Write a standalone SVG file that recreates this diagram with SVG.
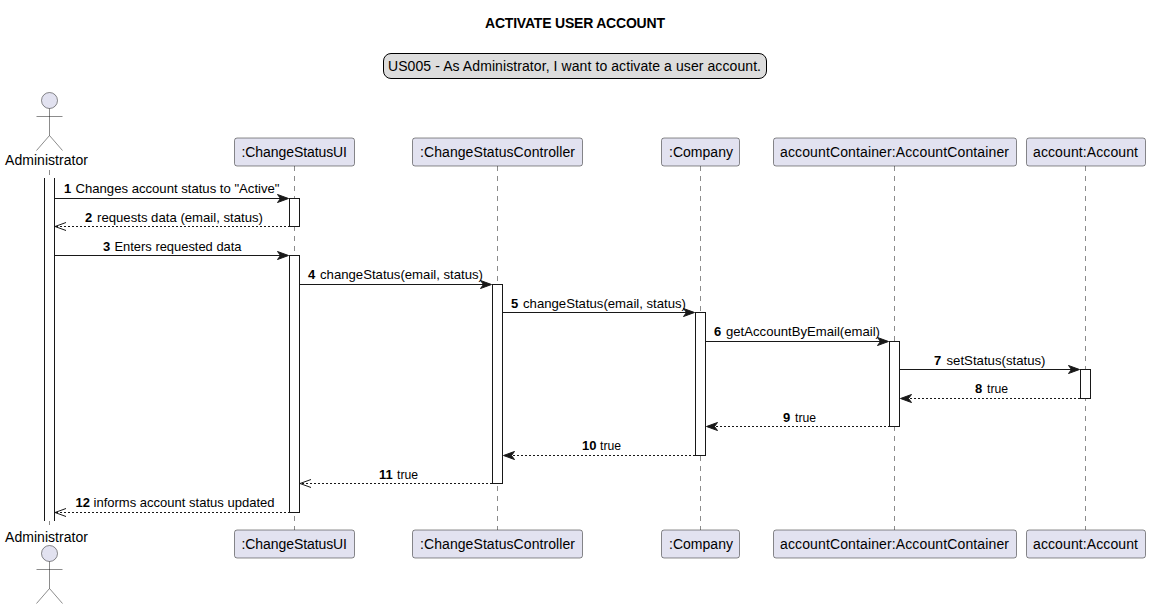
<svg xmlns="http://www.w3.org/2000/svg" width="1150" height="609" viewBox="0 0 1150 609">
<style>
text{font-family:"Liberation Sans",Arial,sans-serif;fill:#000}
.t{font-size:14px;font-weight:bold}
.p{font-size:14px}
.m{font-size:13px;lengthAdjust:spacingAndGlyphs}
.m tspan{font-weight:bold}
.box{fill:#E2E2F0;stroke:#181818;stroke-width:.5}
.life{stroke:#181818;stroke-width:.5;stroke-dasharray:5 5;fill:none}
.act{fill:#fff;stroke:#181818;stroke-width:1}
.actor{fill:none;stroke:#181818;stroke-width:.5}
.head{fill:#E2E2F0;stroke:#181818;stroke-width:.5}
.s{stroke:#181818;stroke-width:1;fill:none}
.d{stroke:#181818;stroke-width:1;stroke-dasharray:2 2;fill:none}
.fh{fill:#181818;stroke:#181818}
.oh{fill:none;stroke:#181818;stroke-width:1}
</style>
<rect width="1150" height="609" fill="#fff"/>
<text class="t" x="575" y="28" text-anchor="middle" textLength="180">ACTIVATE USER ACCOUNT</text>
<g id="legend"><rect x="383.500" y="53.500" width="383" height="25" rx="7.500" fill="#DDDDDD" stroke="#000" stroke-width="1"/>
<text class="p" x="388" y="71" textLength="373">US005 - As Administrator, I want to activate a user account.</text></g>
<g id="lifelines">
<line class="life" x1="49.500" y1="170" x2="49.500" y2="530"/>
<line class="life" x1="294.500" y1="166" x2="294.500" y2="530"/>
<line class="life" x1="497.500" y1="166" x2="497.500" y2="530"/>
<line class="life" x1="700.500" y1="166" x2="700.500" y2="530"/>
<line class="life" x1="894.500" y1="166" x2="894.500" y2="530"/>
<line class="life" x1="1085.500" y1="166" x2="1085.500" y2="530"/>
</g>
<g id="admin"><circle class="head" cx="49.500" cy="100.500" r="8"/><path class="actor" d="M49.500 108.500V135.500M36.500 116.500H62.500M49.500 135.500L36.500 150.500M49.500 135.500L62.500 150.500"/>
<text class="p" x="5" y="165" textLength="83">Administrator</text>
<text class="p" x="5" y="542" textLength="83">Administrator</text>
<circle class="head" cx="49.500" cy="553.500" r="8"/><path class="actor" d="M49.500 561.500V588.500M36.500 569.500H62.500M49.500 588.500L36.500 603.500M49.500 588.500L62.500 603.500"/></g>
<g id="ui"><rect class="box" x="234.500" y="138" width="120" height="28" rx="2.500"/><text class="p" x="241.500" y="157" textLength="105.500">:ChangeStatusUI</text>
<rect class="box" x="234.500" y="530" width="120" height="28" rx="2.500"/><text class="p" x="241.500" y="549" textLength="105.500">:ChangeStatusUI</text></g>
<g id="controller"><rect class="box" x="412.500" y="138" width="170" height="28" rx="2.500"/><text class="p" x="420" y="157" textLength="155">:ChangeStatusController</text>
<rect class="box" x="412.500" y="530" width="170" height="28" rx="2.500"/><text class="p" x="420" y="549" textLength="155">:ChangeStatusController</text></g>
<g id="company"><rect class="box" x="661.500" y="138" width="78" height="28" rx="2.500"/><text class="p" x="669" y="157" textLength="64">:Company</text>
<rect class="box" x="661.500" y="530" width="78" height="28" rx="2.500"/><text class="p" x="669" y="549" textLength="64">:Company</text></g>
<g id="container"><rect class="box" x="773.500" y="138" width="243" height="28" rx="2.500"/><text class="p" x="780" y="157" textLength="229">accountContainer:AccountContainer</text>
<rect class="box" x="773.500" y="530" width="243" height="28" rx="2.500"/><text class="p" x="780" y="549" textLength="229">accountContainer:AccountContainer</text></g>
<g id="account"><rect class="box" x="1026.500" y="138" width="119" height="28" rx="2.500"/><text class="p" x="1033" y="157" textLength="105">account:Account</text>
<rect class="box" x="1026.500" y="530" width="119" height="28" rx="2.500"/><text class="p" x="1033" y="549" textLength="105">account:Account</text></g>
<g id="activations">
<rect x="44.500" y="178" width="10" height="343" fill="#fff"/>
<path class="s" d="M44.500 178V521M54.500 178V521"/>
<rect class="act" x="289.500" y="198.500" width="10" height="28"/>
<rect class="act" x="289.500" y="255.500" width="10" height="257"/>
<rect class="act" x="492.500" y="284.500" width="10" height="199"/>
<rect class="act" x="695.500" y="312.500" width="10" height="143"/>
<rect class="act" x="889.500" y="341.500" width="10" height="85"/>
<rect class="act" x="1080.500" y="369.500" width="10" height="29"/>
</g>
<g id="connectors">
<path class="s" d="M54.500 198.500H287"/><path class="fh" d="M288.500 198.500l-11-4 3 4-3 4z"/>
<path class="d" d="M56 226.500H289"/><path class="oh" d="M66 222.500l-11 4 11 4"/>
<path class="s" d="M54.500 255.500H287"/><path class="fh" d="M288.500 255.500l-11-4 3 4-3 4z"/>
<path class="s" d="M299.500 284.500H490"/><path class="fh" d="M491.500 284.500l-11-4 3 4-3 4z"/>
<path class="s" d="M502.500 312.500H693"/><path class="fh" d="M694.500 312.500l-11-4 3 4-3 4z"/>
<path class="s" d="M705.500 341.500H887"/><path class="fh" d="M888.500 341.500l-11-4 3 4-3 4z"/>
<path class="s" d="M899.500 369.500H1078"/><path class="fh" d="M1079.500 369.500l-11-4 3 4-3 4z"/>
<path class="d" d="M902 398.500H1080"/><path class="fh" d="M900.500 398.500l11-4-3 4 3 4z"/>
<path class="d" d="M708 426.500H889"/><path class="fh" d="M706.500 426.500l11-4-3 4 3 4z"/>
<path class="d" d="M505 455.500H695"/><path class="fh" d="M503.500 455.500l11-4-3 4 3 4z"/>
<path class="d" d="M302 483.500H492"/><path class="oh" d="M311 479.500l-11 4 11 4"/>
<path class="d" d="M56 512.500H289"/><path class="oh" d="M66 508.500l-11 4 11 4"/>
</g>
<g id="labels">
<text class="m" x="64" y="193"><tspan>1</tspan></text><text class="m" x="75.500" y="193" textLength="204" lengthAdjust="spacingAndGlyphs">Changes account status to "Active"</text>
<text class="m" x="85" y="222"><tspan>2</tspan></text><text class="m" x="97" y="222" textLength="166" lengthAdjust="spacingAndGlyphs">requests data (email, status)</text>
<text class="m" x="103" y="251"><tspan>3</tspan></text><text class="m" x="114.500" y="251" textLength="127" lengthAdjust="spacingAndGlyphs">Enters requested data</text>
<text class="m" x="308" y="279"><tspan>4</tspan></text><text class="m" x="320" y="279" textLength="163" lengthAdjust="spacingAndGlyphs">changeStatus(email, status)</text>
<text class="m" x="511" y="308"><tspan>5</tspan></text><text class="m" x="523" y="308" textLength="163" lengthAdjust="spacingAndGlyphs">changeStatus(email, status)</text>
<text class="m" x="714" y="336"><tspan>6</tspan></text><text class="m" x="726" y="336" textLength="154" lengthAdjust="spacingAndGlyphs">getAccountByEmail(email)</text>
<text class="m" x="934" y="365"><tspan>7</tspan></text><text class="m" x="946.500" y="365" textLength="99" lengthAdjust="spacingAndGlyphs">setStatus(status)</text>
<text class="m" x="975" y="393"><tspan>8</tspan></text><text class="m" x="987" y="393" textLength="21" lengthAdjust="spacingAndGlyphs">true</text>
<text class="m" x="783" y="422"><tspan>9</tspan></text><text class="m" x="795" y="422" textLength="21" lengthAdjust="spacingAndGlyphs">true</text>
<text class="m" x="582" y="450"><tspan>10</tspan></text><text class="m" x="600" y="450" textLength="21" lengthAdjust="spacingAndGlyphs">true</text>
<text class="m" x="379" y="479"><tspan>11</tspan></text><text class="m" x="397" y="479" textLength="21" lengthAdjust="spacingAndGlyphs">true</text>
<text class="m" x="75.500" y="507"><tspan>12</tspan></text><text class="m" x="93.500" y="507" textLength="181" lengthAdjust="spacingAndGlyphs">informs account status updated</text>
</g>
</svg>
